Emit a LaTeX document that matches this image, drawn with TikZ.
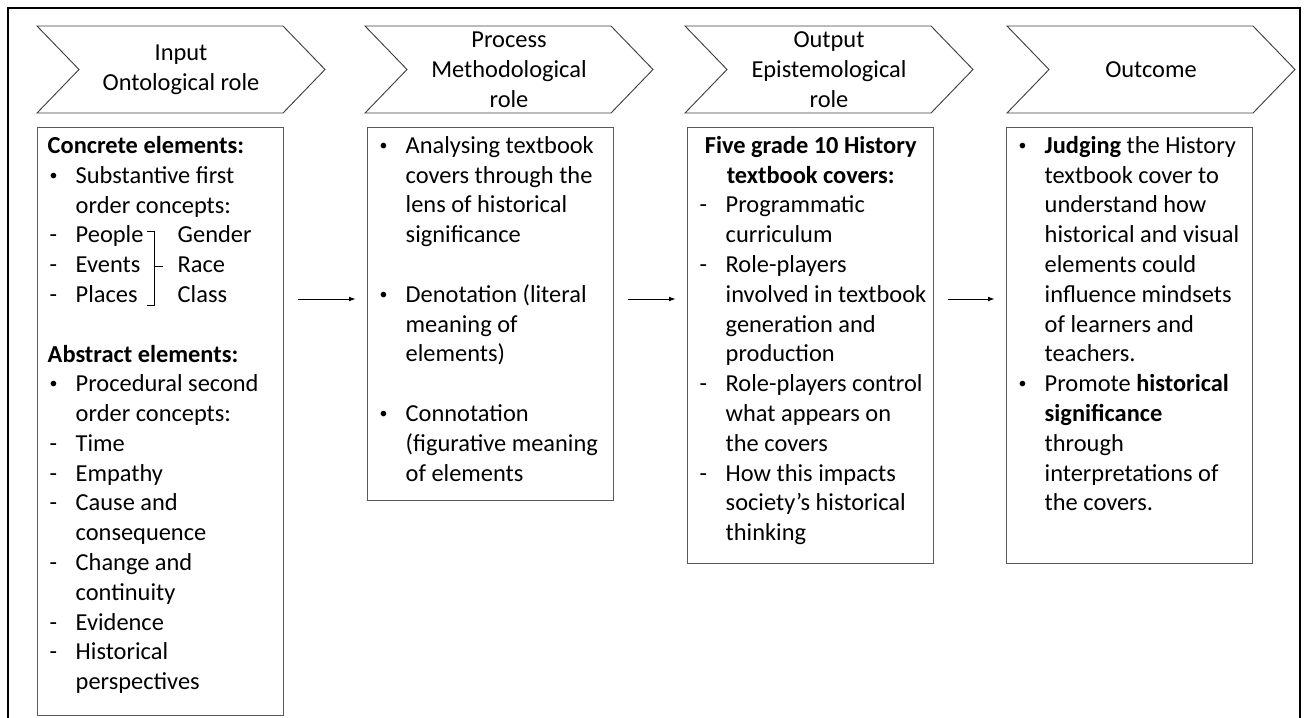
\documentclass[tikz,border=0pt]{standalone}
\usepackage{fontspec}
\setmainfont{Carlito}
\usetikzlibrary{shapes.symbols,arrows.meta}

% item marks and indented continuation lines
\newcommand{\bul}{\makebox[21pt][l]{\hspace{1.5pt}\raisebox{0.12em}{\scalebox{0.65}{\textbullet}}}}
\newcommand{\dsh}{\makebox[21pt][l]{\hspace{1.5pt}-}}
\newcommand{\cnt}{\hspace*{21pt}}
% fixed-size text block of a box
\newcommand{\boxtext}[2]{\parbox[c][#1][t]{184.5pt}{\fontsize{18.3}{22.35}\selectfont
  \leftskip=7.5pt\relax \rightskip=0pt plus 1fil\relax
  \vspace*{3.6pt}\strut #2}}

\begin{document}
\begin{tikzpicture}[x=0.75pt,y=-0.75pt,
  stage/.style={signal,signal from=west,signal to=east,signal pointer angle=92,
    draw=black!75,line width=0.7pt,minimum width=216pt,minimum height=65.25pt,
    inner sep=0pt,align=center,font=\fontsize{18.3}{22.35}\selectfont},
  textbox/.style={draw=black!65,line width=1.1pt,inner sep=0pt,anchor=north west},
  flow/.style={-{Latex[length=5pt,width=3.6pt]},line width=0.75pt,
    shorten <=10.5pt,shorten >=8.5pt},
  frame/.style={line width=2.2pt}]

\useasboundingbox (0,0) rectangle (1304,718);

% Frame
\draw[frame] (8,718) -- (8,8) -- (1300,8) -- (1300,718);

% Stages
\node[stage] (instage) at (181,69.5) {Input\\Ontological role};
\node[stage] (procstage) at (509,69.5) {Process\\Methodological\\role};
\node[stage] (outstage) at (829,69.5) {Output\\Epistemological\\role};
\node[stage] (endstage) at (1151,69.5) {Outcome};

% Input box
\node[textbox] (inbox) at (37,127) {\boxtext{441pt}{%
\textbf{Concrete elements:}\\
\bul Substantive first\\
\cnt order concepts:\\
\dsh \makebox[76.5pt][l]{People}Gender\\
\dsh \makebox[76.5pt][l]{Events}Race\\
\dsh \makebox[76.5pt][l]{Places}Class\\[\baselineskip]
\textbf{Abstract elements:}\\
\bul Procedural second\\
\cnt order concepts:\\
\dsh Time\\
\dsh Empathy\\
\dsh Cause and\\
\cnt consequence\\
\dsh Change and\\
\cnt continuity\\
\dsh Evidence\\
\dsh Historical\\
\cnt perspectives}};

% bracket round People, Events, Places
\draw[line width=0.75pt] (147,231) -- (154,231) -- (154,305) -- (147,305);
\draw[line width=0.75pt] (154,266) -- (163,266);

% Process box
\node[textbox] (procbox) at (367,127) {\boxtext{279.75pt}{%
\bul Analysing textbook\\
\cnt covers through the\\
\cnt lens of historical\\
\cnt significance\\[\baselineskip]
\bul Denotation (literal\\
\cnt meaning of\\
\cnt elements)\\[\baselineskip]
\bul Connotation\\
\cnt (figurative meaning\\
\cnt of elements}};

% Output box
\node[textbox] (outbox) at (687,127) {\boxtext{327pt}{%
\makebox[169.5pt]{\bfseries Five grade 10 History}\\
\makebox[169.5pt]{\bfseries textbook covers:}\\
\dsh Programmatic\\
\cnt curriculum\\
\dsh Role-players\\
\cnt involved in textbook\\
\cnt generation and\\
\cnt production\\
\dsh Role-players control\\
\cnt what appears on\\
\cnt the covers\\
\dsh How this impacts\\
\cnt society’s historical\\
\cnt thinking}};

% Outcome box
\node[textbox] (endbox) at (1006,127) {\boxtext{327pt}{%
\bul \textbf{Judging} the History\\
\cnt textbook cover to\\
\cnt understand how\\
\cnt historical and visual\\
\cnt elements could\\
\cnt influence mindsets\\
\cnt of learners and\\
\cnt teachers.\\
\bul Promote \textbf{historical}\\
\cnt \textbf{significance}\\
\cnt through\\
\cnt interpretations of\\
\cnt the covers.}};

% Arrows
\coordinate (row) at (0,299);
\draw[flow] (inbox.east |- row) -- (procbox.west |- row);
\draw[flow] (procbox.east |- row) -- (outbox.west |- row);
\draw[flow] (outbox.east |- row) -- (endbox.west |- row);

\end{tikzpicture}
\end{document}
